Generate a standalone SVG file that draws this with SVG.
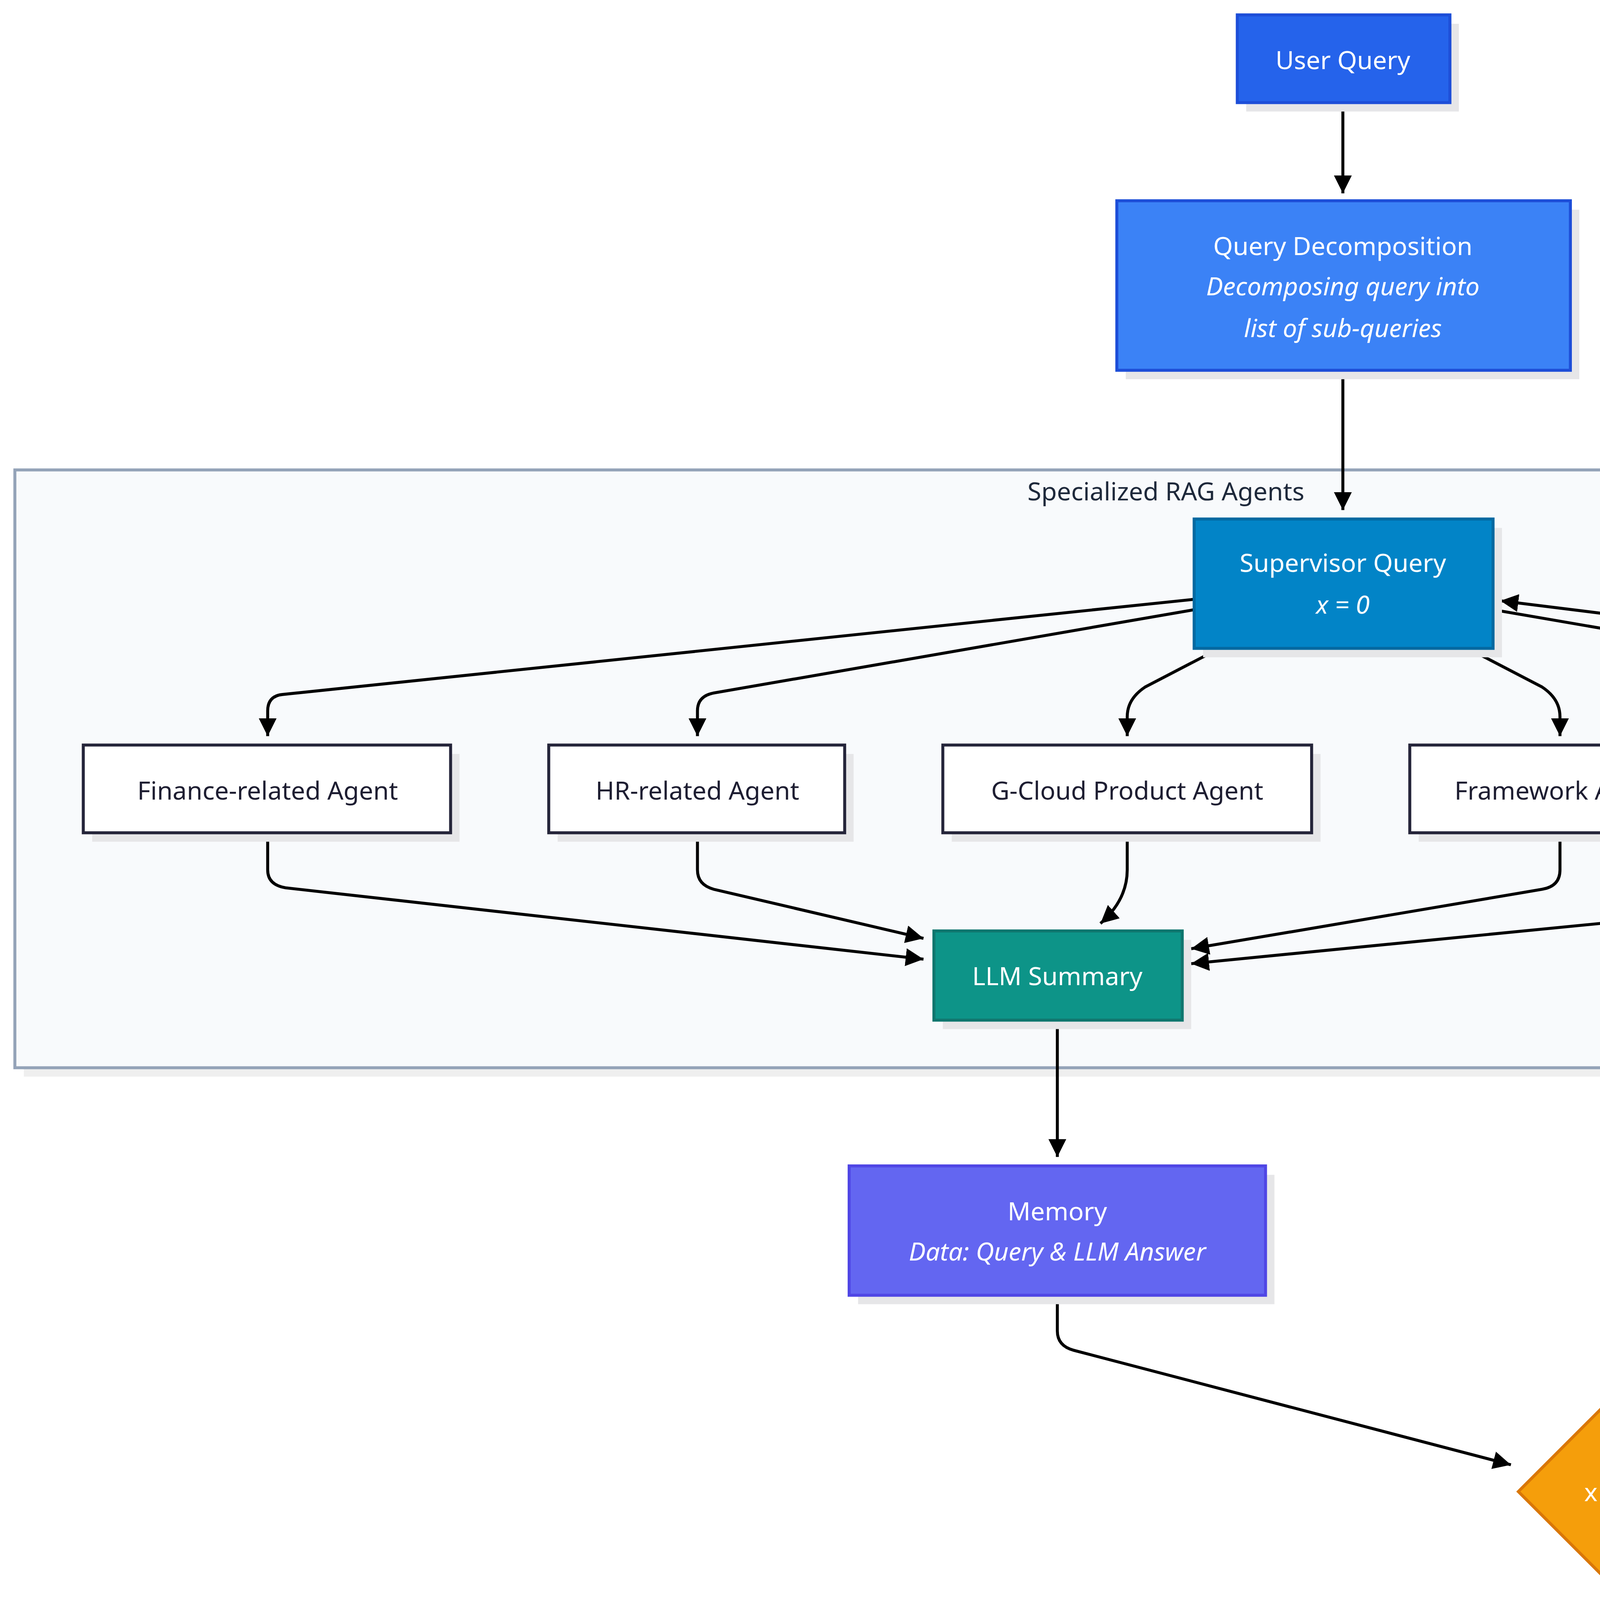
<svg xmlns="http://www.w3.org/2000/svg" width="5954" height="5161" viewBox="0 0 5954 5161">
<defs>
<marker id="ah" viewBox="0 0 10 10" refX="10" refY="5" markerWidth="6" markerHeight="6" orient="auto" markerUnits="strokeWidth"><path d="M0,0 L10,5 L0,10 z" fill="#000"/></marker>
<style>
.t{font-family:"Noto Sans","DejaVu Sans",sans-serif;font-size:17px;text-anchor:middle;dominant-baseline:central}
.w{fill:#fff}.d{fill:#1e1e32}.i{font-style:italic}
.sh{fill:#e6e6e8}
.e{fill:none;stroke:#000;stroke-width:2;marker-end:url(#ah)}
.nl{fill:none;stroke:#000;stroke-width:2}
.ag{fill:#fff;stroke:#25253a;stroke-width:2}
</style>
</defs>
<rect width="5954" height="5161" fill="#fff"/>
<g transform="scale(3.807)">
<g id="cluster">
<rect x="16" y="322" width="1547" height="402" fill="#efefef"/>
<rect x="10" y="316" width="1547" height="402" fill="#f8fafc" stroke="#94a3b8" stroke-width="2"/>
<text class="t" x="784" y="330" fill="#1e293b">Specialized RAG Agents</text>
</g>
<g id="connectors">
<path class="e" d="M903,69 L903,130"/>
<path class="e" d="M903,249 L903,343"/>
<path class="e" d="M803,403 L190,467 Q180,468 180,478 L180,495"/>
<path class="e" d="M803,410 L480,466 Q469,468 469,478 L469,495"/>
<path class="e" d="M820,436 L770,462 Q758,470 758,482 L758,495"/>
<path class="e" d="M987,436 L1037,462 Q1049,470 1049,482 L1049,495"/>
<path class="e" d="M1004,410 L1330,466 Q1341,468 1341,478 L1341,495"/>
<path class="e" d="M1145,990 L1508,907 Q1519,904 1519,893 L1519,480 Q1519,468 1508,466 L1009,404"/>
<path class="e" d="M180,560 L180,585 Q180,595 192,597 L621,645"/>
<path class="e" d="M469,560 L469,585 Q469,595 480,598 L621,631"/>
<path class="e" d="M758,560 L758,585 Q758,605 740,621"/>
<path class="e" d="M1049,560 L1049,585 Q1049,596 1037,598 L801,638"/>
<path class="e" d="M1341,560 L1341,585 Q1341,595 1330,596 L801,648"/>
<path class="e" d="M711,686 L711,778"/>
<path class="e" d="M711,871 L711,895 Q711,905 722,908 L1016,985"/>
<path class="e" d="M1088,1070 L1088,1158"/>
<path class="e" d="M1088,1223 L1088,1283"/>
<rect x="1507" y="644" width="24" height="24" fill="#d4d4d4"/>
<text class="t" x="1519" y="656" fill="#222">No</text>
<rect x="1072" y="1104" width="33" height="26" fill="#d4d4d4"/>
<text class="t" x="1088" y="1117" fill="#333">Yes</text>
</g>
<g id="userQuery">
<rect class="sh" x="838" y="16" width="143" height="59"/>
<rect x="832" y="10" width="143" height="59" fill="#2563eb" stroke="#1d4ed8" stroke-width="2"/>
<text class="t w" x="903" y="40">User Query</text>
</g>
<g id="queryDecomposition">
<rect class="sh" x="757" y="141" width="305" height="114"/>
<rect x="751" y="135" width="305" height="114" fill="#3b82f6" stroke="#1d4ed8" stroke-width="2"/>
<text class="t w" x="903" y="165">Query Decomposition</text>
<text class="t w i" x="903" y="192">Decomposing query into</text>
<text class="t w i" x="903" y="220">list of sub-queries</text>
</g>
<g id="supervisor">
<rect class="sh" x="809" y="355" width="201" height="87"/>
<rect x="803" y="349" width="201" height="87" fill="#0284c7" stroke="#0369a1" stroke-width="2"/>
<text class="t w" x="903" y="378">Supervisor Query</text>
<text class="t w i" x="903" y="406">x = 0</text>
</g>
<g id="finance">
<rect class="sh" x="62" y="507" width="247" height="59"/>
<rect class="ag" x="56" y="501" width="247" height="59"/>
<text class="t d" x="180" y="531">Finance-related Agent</text>
</g>
<g id="hr">
<rect class="sh" x="375" y="507" width="199" height="59"/>
<rect class="ag" x="369" y="501" width="199" height="59"/>
<text class="t d" x="469" y="531">HR-related Agent</text>
</g>
<g id="gcloud">
<rect class="sh" x="640" y="507" width="248" height="59"/>
<rect class="ag" x="634" y="501" width="248" height="59"/>
<text class="t d" x="758" y="531">G-Cloud Product Agent</text>
</g>
<g id="framework">
<rect class="sh" x="954" y="507" width="202" height="59"/>
<rect class="ag" x="948" y="501" width="202" height="59"/>
<text class="t d" x="1049" y="531">Framework Agent</text>
</g>
<g id="ccs">
<rect class="sh" x="1222" y="507" width="250" height="59"/>
<rect class="ag" x="1216" y="501" width="250" height="59"/>
<text class="t d" x="1341" y="531">CCS Information Agent</text>
</g>
<g id="llmSummary">
<rect class="sh" x="634" y="632" width="167" height="60"/>
<rect x="628" y="626" width="167" height="60" fill="#0d9488" stroke="#0f766e" stroke-width="2"/>
<text class="t w" x="711" y="656">LLM Summary</text>
</g>
<g id="memory">
<rect class="sh" x="577" y="790" width="280" height="87"/>
<rect x="571" y="784" width="280" height="87" fill="#6366f1" stroke="#4f46e5" stroke-width="2"/>
<text class="t w" x="711" y="814">Memory</text>
<text class="t w i" x="711" y="841">Data: Query &amp; LLM Answer</text>
</g>
<g id="decision">
<path class="sh" d="M1094,942 L1161,1009 L1094,1076 L1027,1009 z"/>
<path d="M1088,936 L1155,1003 L1088,1070 L1021,1003 z" fill="#f59e0b" stroke="#d97706" stroke-width="2"/>
<text class="t w" x="1088" y="1003">x = n?</text>
</g>
<g id="finalSummary">
<rect class="sh" x="985" y="1170" width="217" height="59"/>
<rect x="979" y="1164" width="217" height="59" fill="#10b981" stroke="#059669" stroke-width="2"/>
<text class="t w" x="1088" y="1194">Final LLM Summary</text>
</g>
<g id="answer">
<rect class="sh" x="1039" y="1295" width="109" height="59"/>
<rect x="1033" y="1289" width="109" height="59" fill="#059669" stroke="#047857" stroke-width="2"/>
<text class="t w" x="1088" y="1319">Answer</text>
</g>
</g>
</svg>
